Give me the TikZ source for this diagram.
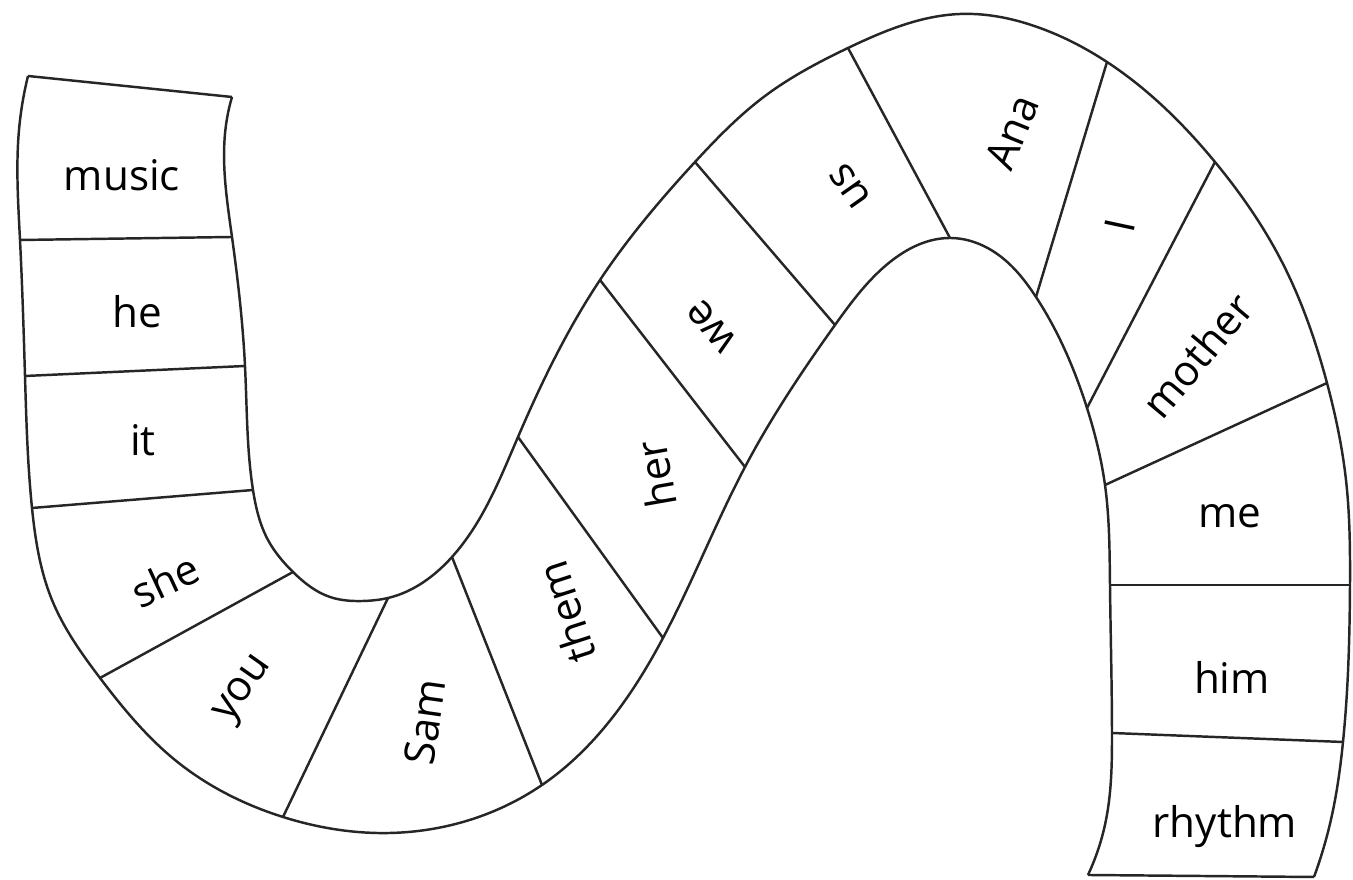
\documentclass[tikz,border=0pt]{standalone}
\usepackage{fontspec}
\setmainfont{Open Sans}
\usetikzlibrary{hobby}
\begin{document}
\begin{tikzpicture}[x=0.01cm,y=-0.01cm,line width=0.7pt,draw=black!85,
  word/.style={font=\fontsize{12}{14}\selectfont,inner sep=0pt}]
\useasboundingbox (0,0) rectangle (1353,880);
% ends of the cell borders: a on the left/lower edge, b on the right/upper edge
\foreach \n/\ax/\ay/\bx/\by in {0/28/76/232/97, 1/20/240/232/237, 2/25/376/245/366,
  3/32/508/253/490, 4/100/678/293/572, 5/283/817/388/598, 6/542/785/452/557,
  7/663/638/518/437, 8/745/467/600/280, 9/835/325/695/162, 10/950/238/848/48,
  11/1036/297/1107/62, 12/1087/408/1215/162, 13/1105/485/1327/383,
  14/1110/585/1350/585, 15/1112/733/1343/742, 16/1088/875/1314/877}
{
  \coordinate (a\n) at (\ax,\ay);
  \coordinate (b\n) at (\bx,\by);
}
% the two edges of the track
\draw (a0) to[curve through={(19,130) (a1) (a2) (a3) (52,600) (a4) (175,760)
  (a5) (390,833) (a6) (a7) (a8) (a9) (890,262) (a10) (1000,256) (a11) (a12)
  (a13) (a14) (a15) (1106,820)}] (a16);
\draw (b0) to[curve through={(226,125) (b1) (b2) (b3) (268,540) (b4) (330,597)
  (363,601) (b5) (b6) (b7) (b8) (b9) (765,96) (b10) (960,14) (1040,28) (b11)
  (b12) (1282,262) (b13) (1346,480) (b14) (b15) (1332,815)}] (b16);
\draw (a0) -- (b0);
\draw (a16) -- (b16);
\foreach \n in {1,...,15}
  \draw (a\n) -- (b\n);
% words
\node[word] (music) at (122,175) {music};
\node[word] (he) at (137,312) {he};
\node[word] (it) at (143,440) {it};
\node[word,rotate=25] (she) at (165,580) {she};
\node[word,rotate=55] (you) at (245,690) {you};
\node[word,rotate=82] (Sam) at (425,722) {Sam};
\node[word,rotate=108] (them) at (566,612) {them};
\node[word,rotate=100] (her) at (656,474) {her};
\node[word,rotate=130] (we) at (712,326) {we};
\node[word,rotate=125] (us) at (850,186) {us};
\node[word,rotate=68] (Ana) at (1012,132) {Ana};
\node[word,rotate=78] (I) at (1120,226) {I};
\node[word,rotate=50] (mother) at (1197,355) {mother};
\node[word] (me) at (1230,516) {me};
\node[word] (him) at (1232,677) {him};
\node[word] (rhythm) at (1225,827) {rhythm};
\end{tikzpicture}
\end{document}
